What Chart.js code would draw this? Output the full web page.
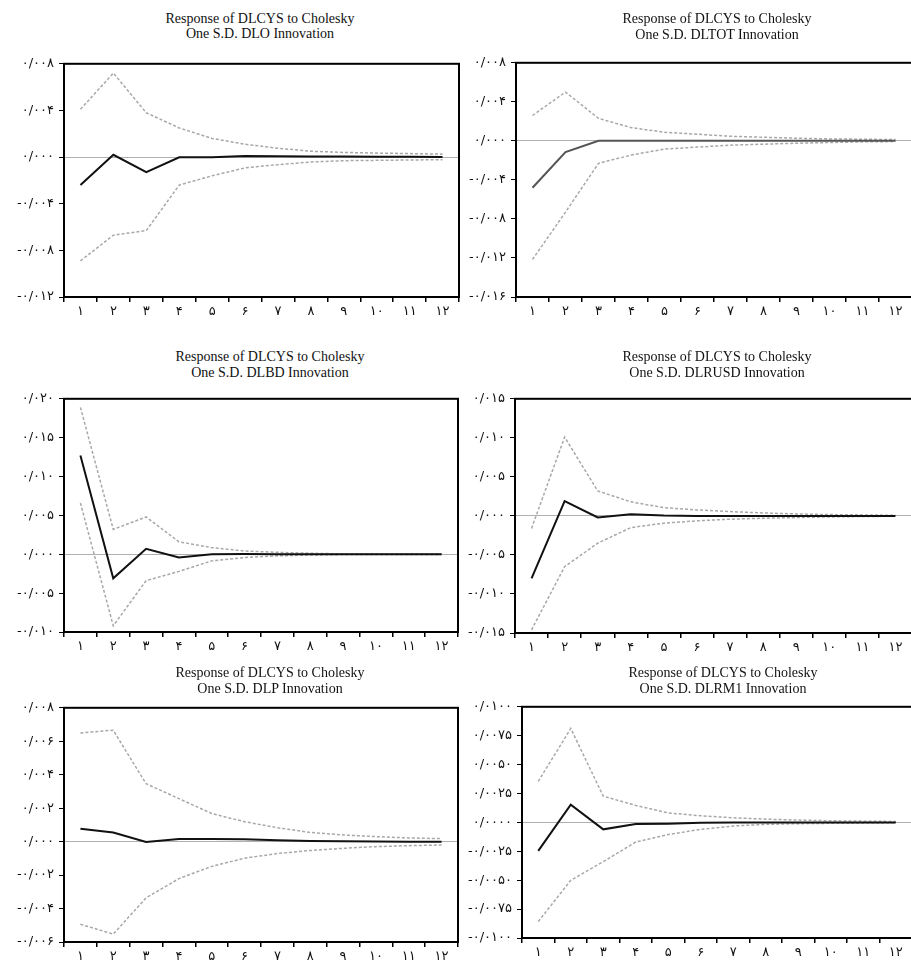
<!DOCTYPE html>
<html>
<head>
<meta charset="utf-8">
<script src="https://cdn.jsdelivr.net/npm/chart.js@4.4.1/dist/chart.umd.min.js"></script>
<style>
    body { margin: 0; background: #fff; overflow: hidden; width: 911px; height: 960px; position: relative; }
    .box { position: absolute; }
    .ttl { position: absolute; width: 320px; text-align: center; font: 14px "Liberation Serif", serif; line-height: 15.5px; color: #111; white-space: nowrap; }
</style>
</head>
<body>
<script>
var periods = ['۱', '۲', '۳', '۴', '۵', '۶', '۷', '۸', '۹', '۱۰', '۱۱', '۱۲'];

// DLO
var dloResp = [-0.0024, 0.0002, -0.0013, -0.00002, -0.00002, 0.0001, 0.00007, 0.00005, 0.00004, 0.00003, 0.00002, 0.00001];
var dloUpper = [0.0041, 0.0072, 0.0038, 0.0025, 0.0016, 0.0011, 0.00076, 0.0005, 0.0004, 0.00034, 0.0003, 0.00025];
var dloLower = [-0.0089, -0.0067, -0.0063, -0.0024, -0.0016, -0.00093, -0.00065, -0.00042, -0.00031, -0.00028, -0.00025, -0.00022];
var dloTicks = [-0.012, -0.008, -0.004, 0, 0.004, 0.008];
var dloTickLabels = ['-۰/۰۱۲', '-۰/۰۰۸', '-۰/۰۰۴', '۰/۰۰۰', '۰/۰۰۴', '۰/۰۰۸'];

// DLTOT
var dltotResp = [-0.0048, -0.00115, 0, 0, 0, 0, 0, 0, 0, 0, 0, 0];
var dltotUpper = [0.0026, 0.005, 0.0023, 0.00135, 0.00088, 0.00068, 0.00047, 0.00037, 0.00027, 0.0002, 0.00017, 0.00013];
var dltotLower = [-0.01215, -0.0073, -0.0023, -0.00145, -0.00084, -0.00064, -0.00044, -0.00034, -0.00024, -0.00017, -0.0001, -0.00007];
var dltotTicks = [-0.016, -0.012, -0.008, -0.004, 0, 0.004, 0.008];
var dltotTickLabels = ['-۰/۰۱۶', '-۰/۰۱۲', '-۰/۰۰۸', '-۰/۰۰۴', '۰/۰۰۰', '۰/۰۰۴', '۰/۰۰۸'];

// DLBD
var dlbdResp = [0.0127, -0.0031, 0.0007, -0.0004, 0, 0.00002, 0, 0, 0, 0, 0, 0];
var dlbdUpper = [0.0189, 0.0032, 0.0048, 0.0016, 0.00085, 0.00042, 0.00025, 0.00013, 0.00005, 0.00003, 0.00002, 0.00002];
var dlbdLower = [0.0066, -0.0092, -0.0034, -0.0022, -0.00085, -0.00042, -0.0002, -0.0001, -0.00004, -0.00003, -0.00002, -0.00002];
var dlbdTicks = [-0.01, -0.005, 0, 0.005, 0.01, 0.015, 0.02];
var dlbdTickLabels = ['-۰/۰۱۰', '-۰/۰۰۵', '۰/۰۰۰', '۰/۰۰۵', '۰/۰۱۰', '۰/۰۱۵', '۰/۰۲۰'];

// DLRUSD
var dlrusdResp = [-0.008, 0.0019, -0.0002, 0.0002, 0.00004, 0, 0, 0, 0, 0, 0, 0];
var dlrusdUpper = [-0.0016, 0.0101, 0.0032, 0.0018, 0.00106, 0.00076, 0.00055, 0.00038, 0.00025, 0.00017, 0.00013, 0.00008];
var dlrusdLower = [-0.0146, -0.0065, -0.0035, -0.0015, -0.00093, -0.00063, -0.00042, -0.0003, -0.00021, -0.00013, -0.00008, -0.00004];
var dlrusdTicks = [-0.015, -0.01, -0.005, 0, 0.005, 0.01, 0.015];
var dlrusdTickLabels = ['-۰/۰۱۵', '-۰/۰۱۰', '-۰/۰۰۵', '۰/۰۰۰', '۰/۰۰۵', '۰/۰۱۰', '۰/۰۱۵'];

// DLP
var dlpResp = [0.00077, 0.00055, -0.00002, 0.00016, 0.00016, 0.00014, 0.00008, 0.00004, 0.00002, 0.00001, 0, 0];
var dlpUpper = [0.0065, 0.00666, 0.00346, 0.00257, 0.00168, 0.00119, 0.00083, 0.00055, 0.0004, 0.0003, 0.00022, 0.00018];
var dlpLower = [-0.00494, -0.00553, -0.00336, -0.00221, -0.00148, -0.00099, -0.00071, -0.00053, -0.0004, -0.0003, -0.00024, -0.0002];
var dlpTicks = [-0.006, -0.004, -0.002, 0, 0.002, 0.004, 0.006, 0.008];
var dlpTickLabels = ['-۰/۰۰۶', '-۰/۰۰۴', '-۰/۰۰۲', '۰/۰۰۰', '۰/۰۰۲', '۰/۰۰۴', '۰/۰۰۶', '۰/۰۰۸'];

// DLRM1
var dlrm1Resp = [-0.00246, 0.00153, -0.0006, -0.00014, -0.00011, -0.00003, 0, 0, 0, 0, 0, 0];
var dlrm1Upper = [0.00354, 0.00813, 0.00227, 0.00147, 0.00082, 0.00057, 0.0004, 0.00028, 0.0002, 0.00014, 0.00011, 0.00008];
var dlrm1Lower = [-0.00858, -0.00501, -0.0034, -0.0017, -0.00105, -0.0006, -0.00031, -0.00017, -0.00011, -0.00008, -0.00006, -0.00003];
var dlrm1Ticks = [-0.01, -0.0075, -0.005, -0.0025, 0, 0.0025, 0.005, 0.0075, 0.01];
var dlrm1TickLabels = ['-۰/۰۱۰۰', '-۰/۰۰۷۵', '-۰/۰۰۵۰', '-۰/۰۰۲۵', '۰/۰۰۰۰', '۰/۰۰۲۵', '۰/۰۰۵۰', '۰/۰۰۷۵', '۰/۰۱۰۰'];

var titleLine1 = 'Response of DLCYS to Cholesky';

// plot rectangles in page pixels, title centre
var panels = [
    { name: 'DLO', resp: dloResp, up: dloUpper, lo: dloLower, ticks: dloTicks, labels: dloTickLabels, x0: 64, y0: 61, x1: 459, y1: 297, tx: 260, ty: 18.5, line: '#111' },
    { name: 'DLTOT', resp: dltotResp, up: dltotUpper, lo: dltotLower, ticks: dltotTicks, labels: dltotTickLabels, x0: 516, y0: 60, x1: 912, y1: 297, tx: 717, ty: 19, line: '#555' },
    { name: 'DLBD', resp: dlbdResp, up: dlbdUpper, lo: dlbdLower, ticks: dlbdTicks, labels: dlbdTickLabels, x0: 64, y0: 396, x1: 458, y1: 632, tx: 270, ty: 357, line: '#111' },
    { name: 'DLRUSD', resp: dlrusdResp, up: dlrusdUpper, lo: dlrusdLower, ticks: dlrusdTicks, labels: dlrusdTickLabels, x0: 515, y0: 396, x1: 912, y1: 633, tx: 717, ty: 357, line: '#111' },
    { name: 'DLP', resp: dlpResp, up: dlpUpper, lo: dlpLower, ticks: dlpTicks, labels: dlpTickLabels, x0: 64, y0: 705, x1: 458, y1: 942, tx: 270, ty: 673, line: '#111' },
    { name: 'DLRM1', resp: dlrm1Resp, up: dlrm1Upper, lo: dlrm1Lower, ticks: dlrm1Ticks, labels: dlrm1TickLabels, x0: 522, y0: 704, x1: 912, y1: 938, tx: 723, ty: 673, line: '#111' }
];

var frame = {
    id: 'frame',
    afterDraw: function (chart) {
        var a = chart.chartArea, ctx = chart.ctx;
        ctx.save();
        ctx.strokeStyle = '#000';
        ctx.lineWidth = 2;
        ctx.strokeRect(a.left, a.top, a.right - a.left, a.bottom - a.top);
        ctx.restore();
    }
};

var YW = 75, XH = 26, PT = 10, PR = 2;

function bandSet(values) {
    return {
        data: values,
        borderColor: '#a8a8a8',
        borderWidth: 1.5,
        borderDash: [3, 2],
        pointRadius: 0,
        tension: 0,
        fill: false
    };
}

panels.forEach(function (p) {
    var t = document.createElement('div');
    t.className = 'ttl';
    t.style.left = (p.tx - 160) + 'px';
    t.style.top = (p.ty - 7.75) + 'px';
    t.innerHTML = titleLine1 + '<br>One S.D. ' + p.name + ' Innovation';

    var box = document.createElement('div');
    box.className = 'box';
    var left = p.x0 - YW, top = p.y0 - PT;
    box.style.left = left + 'px';
    box.style.top = top + 'px';
    box.style.width = (p.x1 + PR - left) + 'px';
    box.style.height = (p.y1 + XH - top) + 'px';
    var canvas = document.createElement('canvas');
    box.appendChild(canvas);
    document.body.appendChild(box);
    document.body.appendChild(t);

    new Chart(canvas.getContext('2d'), {
        type: 'line',
        data: {
            labels: periods,
            datasets: [
                { data: p.resp, borderColor: p.line, borderWidth: 2, pointRadius: 0, tension: 0, fill: false },
                bandSet(p.up),
                bandSet(p.lo)
            ]
        },
        options: {
            responsive: true,
            maintainAspectRatio: false,
            animation: false,
            layout: { autoPadding: false, padding: { top: PT, right: PR, left: 0, bottom: 0 } },
            plugins: { legend: { display: false }, title: { display: false }, tooltip: { enabled: false } },
            scales: {
                x: {
                    offset: true,
                    border: { display: false },
                    grid: { offset: true, drawOnChartArea: false, drawTicks: true, tickLength: 5, tickColor: '#000', lineWidth: 1.5 },
                    ticks: { color: '#111', font: { family: 'DejaVu Sans', size: 13 }, padding: 2, maxRotation: 0, autoSkip: false },
                    afterFit: function (s) { s.height = XH; }
                },
                y: {
                    min: p.ticks[0],
                    max: p.ticks[p.ticks.length - 1],
                    border: { display: false },
                    afterBuildTicks: function (s) { s.ticks = p.ticks.map(function (v) { return { value: v }; }); },
                    grid: {
                        drawOnChartArea: true,
                        tickLength: 5,
                        tickColor: '#000',
                        color: function (c) { return c.tick && c.tick.value === 0 ? '#b0b0b0' : 'rgba(0,0,0,0)'; }
                    },
                    ticks: {
                        color: '#111',
                        font: { family: 'DejaVu Sans', size: 13 },
                        padding: 5,
                        callback: function (v, i) { return p.labels[i]; }
                    },
                    afterFit: function (s) { s.width = YW; }
                }
            }
        },
        plugins: [frame]
    });
});
</script>
</body>
</html>
